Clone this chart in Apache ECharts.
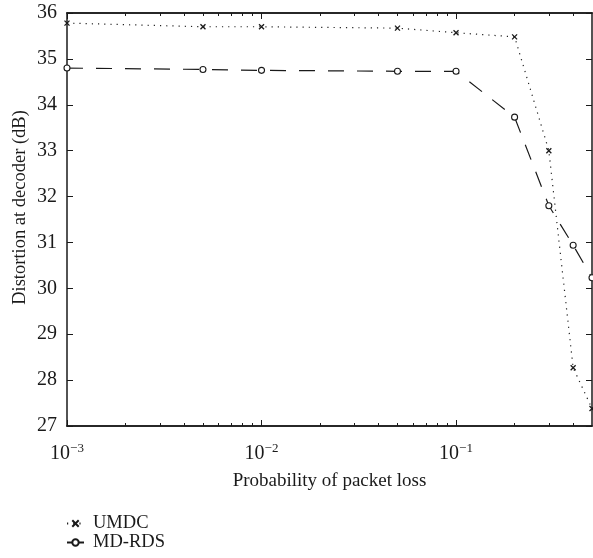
<!DOCTYPE html>
<html>
<head>
<meta charset="utf-8">
<script src="https://cdn.jsdelivr.net/npm/echarts@6/dist/echarts.min.js"></script>
<style>
  html, body { margin: 0; padding: 0; background: #fff; }
  #main { width: 593px; height: 558px; }
</style>
</head>
<body>
<div id="main"></div>
<script>
// data
var lossProb = [0.001, 0.005, 0.01, 0.05, 0.1, 0.2, 0.3, 0.4, 0.5];
var umdc = [35.78, 35.70, 35.70, 35.67, 35.57, 35.48, 33.00, 28.27, 27.38];
var mdrds = [34.80, 34.77, 34.75, 34.73, 34.73, 33.73, 31.80, 30.94, 30.23];
var majorTicks = [0.001, 0.01, 0.1];
var minorTicks = [0.002, 0.003, 0.004, 0.005, 0.006, 0.007, 0.008, 0.009,
                  0.02, 0.03, 0.04, 0.05, 0.06, 0.07, 0.08, 0.09,
                  0.2, 0.3, 0.4];
var yTicks = [27, 28, 29, 30, 31, 32, 33, 34, 35, 36];

var font = 'Liberation Serif';
var ink = '#1a1a1a';

function pairs(xs, ys) {
  return xs.map(function (x, i) { return [x, ys[i]]; });
}

function xAxisDef(pos, ticks, len, labels) {
  return {
    type: 'log', logBase: 10, min: 0.001, max: 0.5,
    position: pos,
    axisLine: { show: true, onZero: false, lineStyle: { color: ink, width: 1.5 } },
    axisTick: { show: true, inside: true, length: len, customValues: ticks,
                lineStyle: { color: ink, width: 1 } },
    splitLine: { show: false },
    axisLabel: labels ? {
      show: true, customValues: majorTicks, margin: 16,
      fontFamily: font, fontSize: 20, color: ink,
      formatter: function (v) {
        var e = Math.round(Math.log10(v));
        return '{b|10}{s|' + (e < 0 ? '\u2212' + (-e) : e) + '}';
      },
      rich: {
        b: { fontFamily: font, fontSize: 20, color: ink },
        s: { fontFamily: font, fontSize: 13, color: ink, padding: [0, 0, 10, 0] }
      }
    } : { show: false }
  };
}

var chart = echarts.init(document.getElementById('main'));
chart.setOption({
  animation: false,
  backgroundColor: '#fff',
  grid: { left: 67, right: 1, top: 13, bottom: 132 },
  legend: {
    orient: 'vertical', left: 66, top: 514, itemGap: 0, padding: 0,
    height: 44,
    itemWidth: 17, itemHeight: 8,
    textStyle: { fontFamily: font, fontSize: 18.5, lineHeight: 17, color: ink,
                 padding: [0, 0, 0, 4] },
    data: [
      { name: 'UMDC' },
      { name: 'MD-RDS', lineStyle: { type: 'solid' } }
    ]
  },
  xAxis: [
    Object.assign(xAxisDef('bottom', majorTicks, 6, true), {
      name: 'Probability of packet loss', nameLocation: 'middle', nameGap: 46,
      nameTextStyle: { fontFamily: font, fontSize: 19, color: ink }
    }),
    xAxisDef('bottom', minorTicks, 3, false),
    xAxisDef('top', majorTicks, 6, false),
    xAxisDef('top', minorTicks, 3, false)
  ],
  yAxis: [
    {
      type: 'value', min: 27, max: 36, interval: 1, position: 'left',
      name: 'Distortion at decoder (dB)', nameLocation: 'middle', nameGap: 37,
      nameMoveOverlap: false,
      nameTextStyle: { fontFamily: font, fontSize: 18.5, color: ink,
                       padding: [0, 0, 0, 24] },
      axisLine: { show: true, onZero: false, lineStyle: { color: ink, width: 1.5 } },
      axisTick: { show: true, inside: true, length: 6, lineStyle: { color: ink } },
      splitLine: { show: false },
      axisLabel: { margin: 10, fontFamily: font, fontSize: 20, color: ink,
                   customValues: yTicks }
    },
    {
      type: 'value', min: 27, max: 36, interval: 1, position: 'right',
      axisLine: { show: true, onZero: false, lineStyle: { color: ink, width: 1.5 } },
      axisTick: { show: true, inside: true, length: 6, lineStyle: { color: ink } },
      splitLine: { show: false },
      axisLabel: { show: false }
    }
  ],
  series: [
    {
      name: 'UMDC', type: 'line', xAxisIndex: 0, yAxisIndex: 0,
      data: pairs(lossProb, umdc),
      symbol: 'path://M0,0L10,10M10,0L0,10', symbolSize: 5,
      lineStyle: { color: '#222', width: 1.2, type: [1.2, 5] },
      itemStyle: { color: 'none', borderColor: ink, borderWidth: 1.3 }
    },
    {
      name: 'MD-RDS', type: 'line', xAxisIndex: 0, yAxisIndex: 0,
      data: pairs(lossProb, mdrds),
      symbol: 'circle', symbolSize: 6,
      lineStyle: { color: ink, width: 1.2, type: [16, 13] },
      itemStyle: { color: '#fff', borderColor: ink, borderWidth: 1.1 }
    }
  ]
});
</script>
</body>
</html>
